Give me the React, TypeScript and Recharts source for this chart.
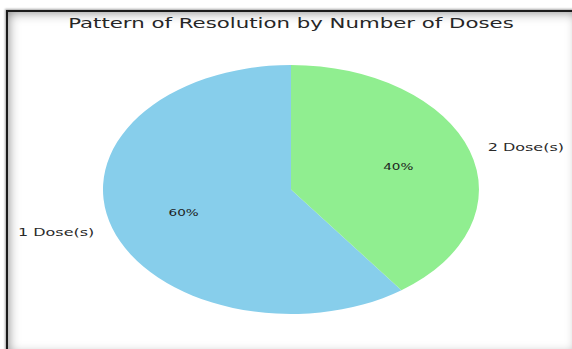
import { PieChart, Pie, Cell } from "recharts";

// ── Data ──────────────────────────────────────────────────────────────────────
const doseLabels = ["1 Dose(s)", "2 Dose(s)"];
const doseShares = [60, 40];
const sliceColors = ["#87CEEB", "#90EE90"];
const chartTitle = "Pattern of Resolution by Number of Doses";

const pieData = doseLabels.map((name, i) => ({ name, value: doseShares[i] }));

// the reference is a matplotlib figure stretched sideways, so draw it narrow and widen it
const STRETCH = 1.51;
const INNER_W = 379;
const INNER_H = 349;
const RADIAN = Math.PI / 180;
const FONT = "'DejaVu Sans', sans-serif";

// ── Labels: name at 1.1 r, percent at 0.6 r (matplotlib defaults) ─────────────
function SliceLabel(props: any) {
    const { cx, cy, midAngle, outerRadius, name, percent } = props;
    const cos = Math.cos(-midAngle * RADIAN);
    const sin = Math.sin(-midAngle * RADIAN);

    const nx = cx + outerRadius * 1.1 * cos;
    const ny = cy + outerRadius * 1.1 * sin;
    const px = cx + outerRadius * 0.6 * cos;
    const py = cy + outerRadius * 0.6 * sin;

    return (
        <g>
            <text
                x={nx}
                y={ny}
                textAnchor={cos >= 0 ? "start" : "end"}
                dominantBaseline="central"
                fontFamily={FONT}
                fontSize={10.6}
                fill="#2a2a2a"
            >
                {name}
            </text>
            <text
                x={px}
                y={py}
                textAnchor="middle"
                dominantBaseline="central"
                fontFamily={FONT}
                fontSize={9}
                fill="#1e1e1e"
            >
                {`${Math.round(percent * 100)}%`}
            </text>
        </g>
    );
}

// ── Component ─────────────────────────────────────────────────────────────────
export default function App() {
    return (
        <div
            style={{
                position: "fixed",
                left: 0,
                top: 0,
                width: 572,
                height: 349,
                overflow: "hidden",
                background: "#fff",
            }}
        >
            {/* photo-like frame */}
            <div
                style={{
                    position: "absolute",
                    left: 6,
                    top: 10,
                    width: 572,
                    height: 345,
                    boxSizing: "border-box",
                    borderLeft: "2px solid #1a1a1a",
                    borderTop: "2px solid #1a1a1a",
                    boxShadow: "inset 0 0 12px rgba(0,0,0,0.5), -1px -1px 2px rgba(0,0,0,0.35)",
                }}
            />
            <div
                style={{
                    position: "absolute",
                    left: 0,
                    top: 0,
                    width: INNER_W,
                    height: INNER_H,
                    transform: `scaleX(${STRETCH})`,
                    transformOrigin: "0 0",
                }}
            >
                <svg
                    width={INNER_W}
                    height={INNER_H}
                    style={{ position: "absolute", left: 0, top: 0 }}
                >
                    <text
                        x={192.7}
                        y={28.5}
                        textAnchor="middle"
                        fontFamily={FONT}
                        fontSize={14.1}
                        fill="#262626"
                    >
                        {chartTitle}
                    </text>
                </svg>
                <div style={{ position: "absolute", left: 0, top: 0 }}>
                    <PieChart width={INNER_W} height={INNER_H} margin={{ top: 0, right: 0, bottom: 0, left: 0 }}>
                        <Pie
                            data={pieData}
                            dataKey="value"
                            nameKey="name"
                            cx={192.7}
                            cy={189.5}
                            outerRadius={124.5}
                            startAngle={90}
                            endAngle={450}
                            stroke="none"
                            label={SliceLabel}
                            labelLine={false}
                            isAnimationActive={false}
                        >
                            {pieData.map((d, i) => (
                                <Cell key={d.name} fill={sliceColors[i]} />
                            ))}
                        </Pie>
                    </PieChart>
                </div>
            </div>
        </div>
    );
}
